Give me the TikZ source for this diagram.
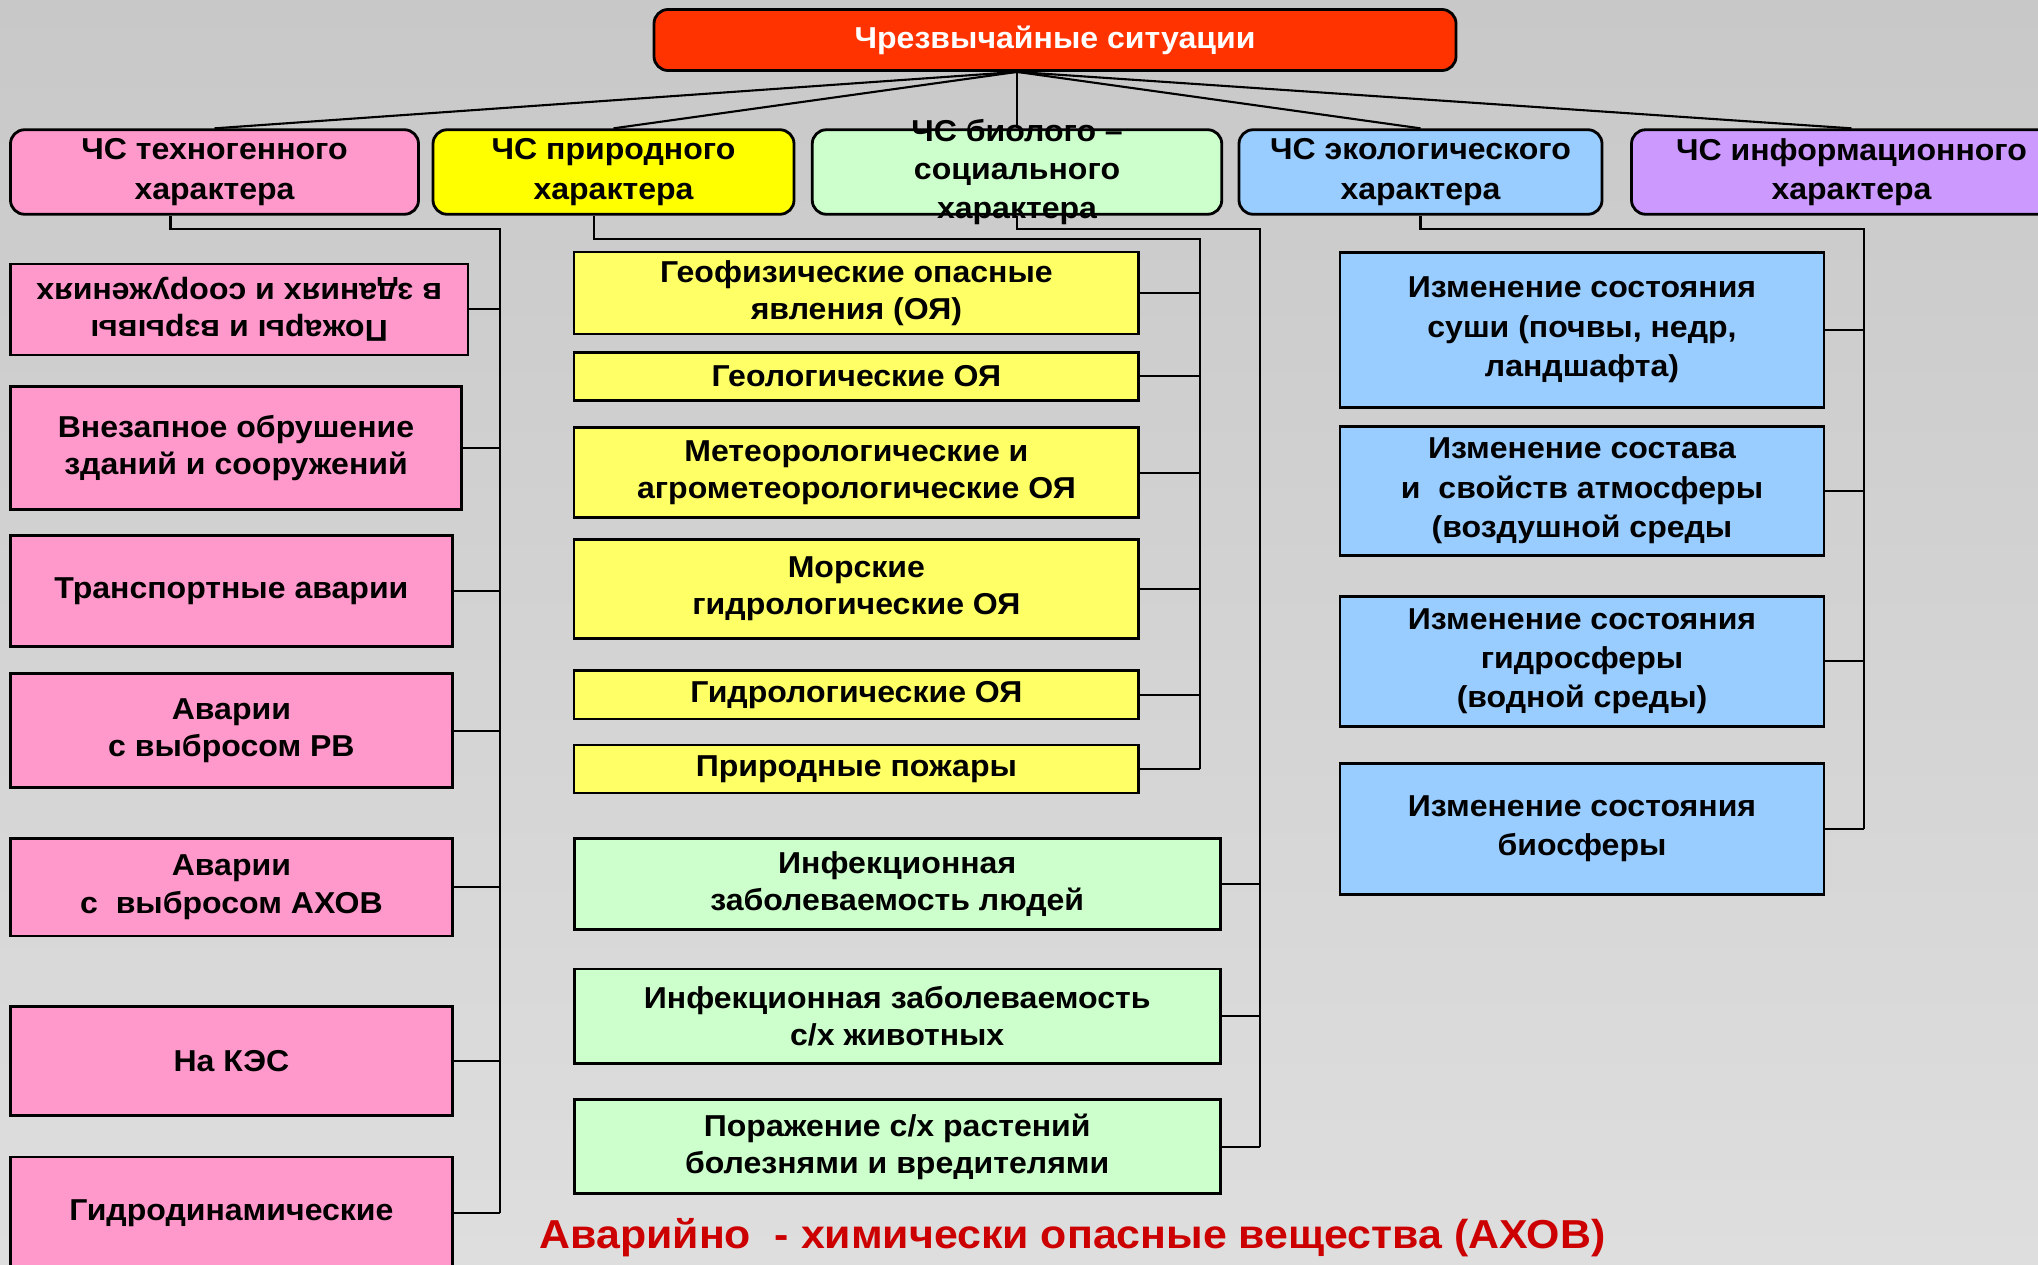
\documentclass[tikz,border=0pt]{standalone}
\usepackage{fontspec}
\setmainfont[FakeStretch=1.06]{Liberation Sans}
\usetikzlibrary{calc,positioning}
\definecolor{esRed}{RGB}{255,51,0}
\definecolor{esPink}{RGB}{255,153,204}
\definecolor{esYellow}{RGB}{255,255,0}
\definecolor{esLemon}{RGB}{255,255,102}
\definecolor{esMint}{RGB}{204,255,204}
\definecolor{esSky}{RGB}{153,204,255}
\definecolor{esViolet}{RGB}{204,153,255}
\definecolor{esNote}{RGB}{204,0,0}
\definecolor{bgTop}{RGB}{200,200,200}
\definecolor{bgMid}{RGB}{255,255,255}
\definecolor{bgBot}{RGB}{222,222,222}

\begin{document}
\begin{tikzpicture}[y=-1cm, font=\fontsize{8.6}{10.6}\selectfont\bfseries,
  head/.style={draw, line width=0.8pt, rounded corners=4pt, align=center, inner sep=0pt, font=\fontsize{8.6}{11.2}\selectfont\bfseries},
  item/.style={draw, line width=0.8pt, align=center, inner sep=0pt},
  link/.style={line width=0.6pt}]
  \useasboundingbox (0,0) rectangle (20.38,12.64);
  \clip (0,0) rectangle (20.38,12.64);
  \shade[top color=bgTop, middle color=bgMid, bottom color=bgBot] (0,0) rectangle (20.38,12.64);

  % root and categories
  \node[head, fill=esRed, text=white, minimum width=8.02cm, minimum height=0.61cm] (chs) at (10.55,0.40) {Чрезвычайные ситуации};
  \node[head, fill=esPink, minimum width=4.08cm, minimum height=0.845cm] (techno) at (2.145,1.72) {ЧС техногенного\\характера};
  \node[head, fill=esYellow, minimum width=3.61cm, minimum height=0.845cm] (prirod) at (6.135,1.72) {ЧС природного\\характера};
  \node[head, fill=esMint, minimum width=4.095cm, minimum height=0.845cm, label={[align=center, font=\fontsize{8.6}{10.9}\selectfont\bfseries]center:ЧС биолого –\\социального\\характера}] (bio) at (10.17,1.72) {};
  \node[head, fill=esSky, minimum width=3.63cm, minimum height=0.845cm] (eco) at (14.205,1.72) {ЧС экологического\\характера};
  \node[head, fill=esViolet, minimum width=4.4cm, minimum height=0.845cm] (info) at (18.515,1.72) {ЧС информационного\\характера};

  % technogenic
  \node[item, fill=esPink, minimum width=4.576cm, minimum height=0.91cm] (fire) at (2.392,3.094) {\rotatebox{180}{\begin{tabular}{@{}c@{}}Пожары и взрывы\\в зданиях и сооружениях\end{tabular}}};
  \node[item, fill=esPink, minimum width=4.511cm, minimum height=1.235cm] (collapse) at (2.36,4.479) {Внезапное обрушение\\зданий и сооружений};
  \node[item, fill=esPink, minimum width=4.42cm, minimum height=1.105cm] (transport) at (2.314,5.909) {Транспортные аварии};
  \node[item, fill=esPink, minimum width=4.42cm, minimum height=1.144cm] (radio) at (2.314,7.306) {Аварии\\с выбросом РВ};
  \node[item, fill=esPink, minimum width=4.42cm, minimum height=0.975cm] (chem) at (2.314,8.873) {Аварии\\с\ \ выбросом АХОВ};
  \node[item, fill=esPink, minimum width=4.42cm, minimum height=1.092cm] (kes) at (2.314,10.608) {На КЭС};
  \node[item, fill=esPink, minimum width=4.42cm, minimum height=1.12cm] (hydro) at (2.314,12.13) {Гидродинамические};

  % natural
  \node[item, fill=esLemon, minimum width=5.647cm, minimum height=0.819cm] (geophys) at (8.564,2.93) {Геофизические опасные\\явления (ОЯ)};
  \node[item, fill=esLemon, minimum width=5.647cm, minimum height=0.481cm] (geolog) at (8.564,3.764) {Геологические ОЯ};
  \node[item, fill=esLemon, minimum width=5.647cm, minimum height=0.897cm] (meteo) at (8.564,4.726) {Метеорологические и\\агрометеорологические ОЯ};
  \node[item, fill=esLemon, minimum width=5.647cm, minimum height=0.988cm] (marine) at (8.564,5.889) {Морские\\гидрологические ОЯ};
  \node[item, fill=esLemon, minimum width=5.647cm, minimum height=0.486cm] (hydrol) at (8.564,6.946) {Гидрологические ОЯ};
  \node[item, fill=esLemon, minimum width=5.647cm, minimum height=0.481cm] (wildfire) at (8.564,7.69) {Природные пожары};

  % bio-social
  \node[item, fill=esMint, minimum width=6.462cm, minimum height=0.91cm] (people) at (8.972,8.84) {Инфекционная\\заболеваемость людей};
  \node[item, fill=esMint, minimum width=6.462cm, minimum height=0.944cm] (animals) at (8.972,10.162) {Инфекционная заболеваемость\\с/х животных};
  \node[item, fill=esMint, minimum width=6.462cm, minimum height=0.936cm] (plants) at (8.972,11.466) {Поражение с/х растений\\болезнями и вредителями};

  % ecological
  \node[item, fill=esSky, minimum width=4.84cm, minimum height=1.554cm, font=\fontsize{8.6}{11.2}\selectfont\bfseries] (land) at (15.82,3.298) {Изменение состояния\\суши (почвы, недр,\\ландшафта)};
  \node[item, fill=esSky, minimum width=4.84cm, minimum height=1.287cm, font=\fontsize{8.6}{11.2}\selectfont\bfseries] (air) at (15.82,4.908) {Изменение состава\\и\ \ свойств атмосферы\\(воздушной среды};
  \node[item, fill=esSky, minimum width=4.84cm, minimum height=1.30cm, font=\fontsize{8.6}{11.2}\selectfont\bfseries] (water) at (15.82,6.612) {Изменение состояния\\гидросферы\\(водной среды)};
  \node[item, fill=esSky, minimum width=4.84cm, minimum height=1.313cm, font=\fontsize{8.6}{11.2}\selectfont\bfseries] (biosph) at (15.82,8.29) {Изменение состояния\\биосферы};

  \node[text=esNote, font=\fontsize{11.5}{14}\selectfont\bfseries] (axov) at (10.725,12.376) {Аварийно\ \ - химически опасные вещества (АХОВ)};

  % connectors
  \foreach \n in {techno,prirod,bio,eco,info}
    \draw[link] (chs.south -| bio.north) -- (\n.north);

  \coordinate (tbus) at (5.0,2.29);
  \draw[link] ([xshift=-0.44cm]techno.south) |- (tbus) -- (tbus |- hydro.east);
  \foreach \n in {fire,collapse,transport,radio,chem,kes,hydro}
    \draw[link] (\n.east) -- (\n.east -| tbus);

  \coordinate (pbus) at (12.0,2.39);
  \draw[link] ([xshift=-0.195cm]prirod.south) |- (pbus) -- (pbus |- wildfire.east);
  \foreach \n in {geophys,geolog,meteo,marine,hydrol,wildfire}
    \draw[link] (\n.east) -- (\n.east -| pbus);

  \coordinate (bbus) at (12.6,2.29);
  \draw[link] (bio.south) |- (bbus) -- (bbus |- plants.east);
  \foreach \n in {people,animals,plants}
    \draw[link] (\n.east) -- (\n.east -| bbus);

  \coordinate (ebus) at (18.64,2.29);
  \draw[link] (eco.south) |- (ebus) -- (ebus |- biosph.east);
  \foreach \n in {land,air,water,biosph}
    \draw[link] (\n.east) -- (\n.east -| ebus);
\end{tikzpicture}
\end{document}
